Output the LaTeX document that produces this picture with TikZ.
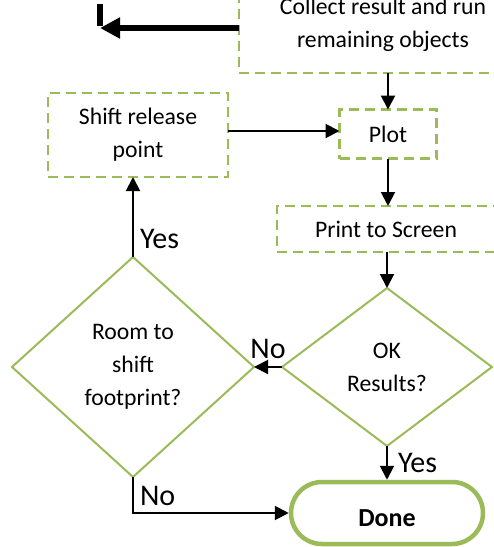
\documentclass[tikz,border=0pt]{standalone}
\usepackage{fontspec}
\setmainfont{Carlito}
\usetikzlibrary{shapes.geometric,arrows.meta}
\definecolor{leaf}{RGB}{155,187,89}
\begin{document}
\begin{tikzpicture}[x=1pt,y=-1pt,
    box/.style={draw=leaf,line width=2.5pt,dash pattern=on 10pt off 6pt,
      align=center,inner sep=0pt,outer sep=0pt,font=\fontsize{23.7}{33}\selectfont},
    choice/.style={diamond,draw=leaf,line width=2pt,align=center,
      inner sep=0pt,outer sep=0pt,font=\fontsize{23.7}{33}\selectfont},
    flow/.style={-{Triangle[length=14pt,width=14pt]},line width=2pt},
    heavy/.style={-{Triangle[length=20pt,width=20pt]},line width=6pt},
    tag/.style={font=\fontsize{30}{32}\selectfont,inner sep=2pt}]
  \clip (0,0) rectangle (494,547);
  \node[box,minimum width=288,minimum height=96] (collect) at (383,25)
    {Collect result and run\\remaining objects};
  \node[box,minimum width=97,minimum height=49] (plot) at (388,134) {Plot};
  \node[box,minimum width=180,minimum height=84] (shift) at (138,135)
    {Shift release\\point};
  \node[box,minimum width=218,minimum height=46] (print) at (386,229)
    {Print to Screen};
  \node[choice,minimum width=210,minimum height=158] (ok) at (387,367)
    {OK\\Results?};
  \node[choice,minimum width=242,minimum height=220] (room) at (133,367)
    {Room to\\shift\\footprint?};
  \node[draw=leaf,line width=4.5pt,rounded corners=31pt,minimum width=192,
    minimum height=62,inner sep=0pt,text height=26pt,text depth=0pt,
    font=\fontsize{26}{28}\selectfont\bfseries]
    (done) at (387,513) {Done};
  \coordinate (tip) at (100,28);
  \coordinate (bar) at (100,4);
  \coordinate (feed) at (0,131);
  \begin{scope}
    \draw[heavy] (collect.west |- tip) -- (tip);
    \draw[line width=6pt] (bar) -- ++(0,22);
    \draw[flow] (plot.north |- collect.south) -- (plot.north);
    \draw[flow] (shift.east |- feed) -- (plot.west |- feed);
    \draw[flow] (plot.south) -- (plot.south |- print.north);
    \draw[flow] (print.south -| ok.north) -- (ok.north);
    \draw[flow] (ok.west) -- node[tag,above=5pt] {No} (room.east);
    \draw[flow] (room.north) -- node[tag,right=4pt,pos=0.22] {Yes}
      (room.north |- shift.south);
    \draw[flow] (ok.south) -- node[tag,right=8pt] {Yes} (done.north);
    \draw[flow] (room.south) |- node[tag,right=4pt,pos=0.27] {No} (done.west);
  \end{scope}
\end{tikzpicture}
\end{document}
